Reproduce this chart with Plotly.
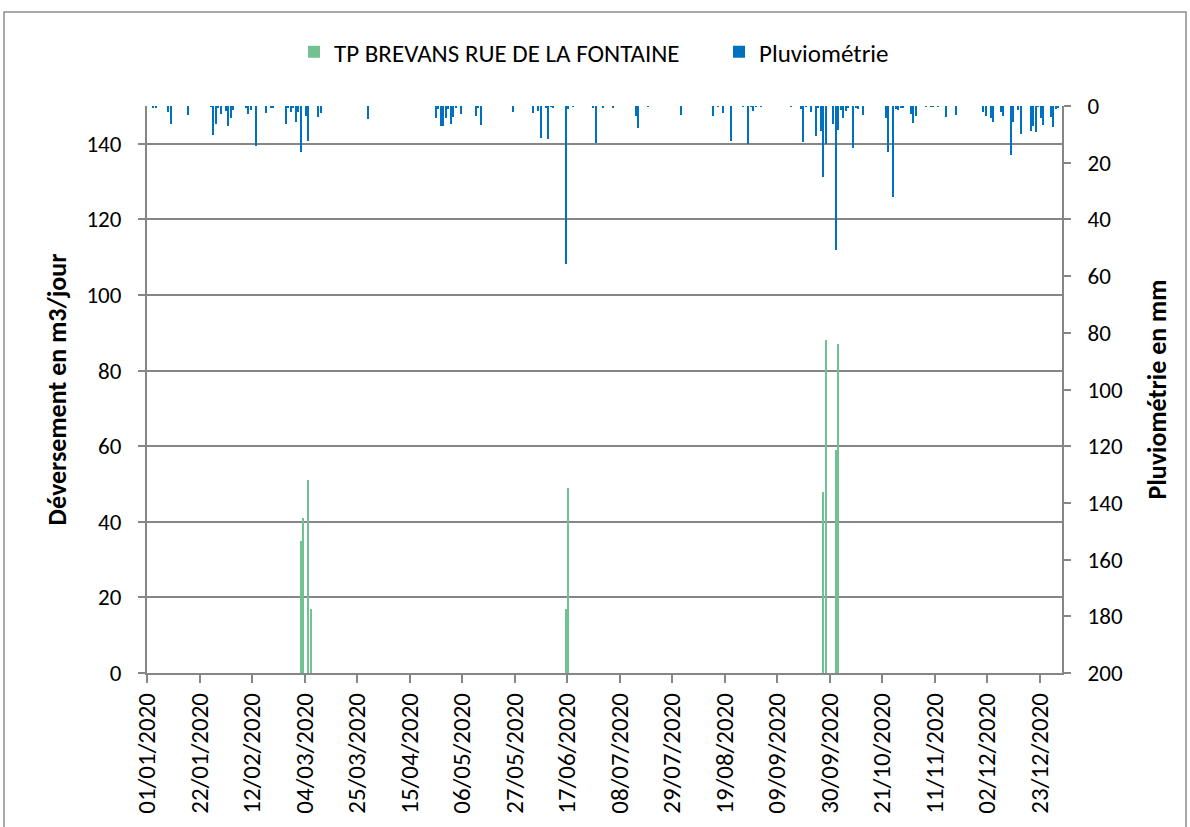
import pandas as pd
import plotly.graph_objects as go

# ---- data (day index from 01/01/2020) ----
overflow_day = [61, 62, 64, 65, 167, 168, 270, 271, 275, 276]
overflow_m3 = [35, 41, 51, 17, 17, 49, 48, 88, 59, 87]

rain_day = [2, 3, 8, 9, 16, 25, 26, 27, 28, 29, 31, 32, 33, 34, 39, 40, 41, 43, 47, 49, 50,
            55, 56, 57, 58, 59, 60, 61, 63, 64, 68, 69,
            88, 115, 116, 117, 118, 119, 120, 121, 122, 123, 125, 131, 132, 133, 146,
            154, 156, 157, 159, 160, 161, 162, 167, 168, 170, 178, 179, 182, 186, 195, 196,
            200, 213, 226, 228,
            230, 233, 238, 240, 241, 242, 243, 245, 257, 261, 262, 263, 265, 267, 268, 269,
            270, 271, 274, 275, 276, 277, 278, 279, 280, 282, 283, 284, 286, 295, 296, 298,
            299, 300, 301, 302,
            305, 306, 307, 311, 313, 314, 316, 319, 323, 334, 335, 337, 338, 341, 342, 345,
            346, 348, 349, 353, 354, 355, 356, 357, 358, 361, 362, 363, 364]
rain_mm = [0.8, 0.4, 2.2, 6.2, 3.2, 0.2, 10.2, 6.5, 0.8, 2.9, 1.6, 6.9, 4.1, 1.4, 0.8, 2.9, 1.4, 14.1, 2.6, 0.6, 0.6,
           6.5, 0.8, 2.0, 0.8, 5.8, 2.0, 16.3, 3.4, 12.2, 3.8, 2.6,
           4.6, 4.4, 1.1, 6.9, 7.2, 4.4, 1.1, 6.2, 3.8, 0.5, 2.7, 3.4, 0.8, 6.6, 2.0,
           2.6, 1.6, 11.4, 0.5, 11.8, 0.2, 0.6, 55.9, 1.2, 0.2, 0.8, 12.9, 0.8, 0.5, 3.4, 7.9,
           0.2, 3.2, 3.4, 0.2,
           2.4, 12.3, 0.2, 13.5, 0.2, 1.8, 0.2, 0.2, 0.2, 1.1, 12.6, 0.2, 2.0, 10.5, 0.8, 8.7,
           25.0, 13.3, 6.3, 50.8, 8.6, 1.4, 4.1, 1.8, 0.5, 14.9, 0.5, 1.1, 3.2, 4.1, 16.1, 32.0,
           1.1, 1.4, 0.5, 0.4,
           2.8, 6.1, 3.5, 0.2, 0.2, 0.2, 0.2, 3.8, 3.2, 2.0, 3.4, 4.4, 5.5, 2.0, 3.4, 17.3,
           5.8, 1.4, 10.0, 8.7, 6.9, 9.1, 0.2, 4.4, 6.7, 3.8, 7.4, 1.1, 0.8]

series_names = ["TP BREVANS RUE DE LA FONTAINE", "Pluviométrie"]
y_title = "Déversement en m3/jour"
y2_title = "Pluviométrie en mm"

base = pd.Timestamp("2020-01-01")
overflow_dates = base + pd.to_timedelta(overflow_day, unit="D")
rain_dates = base + pd.to_timedelta(rain_day, unit="D")

DAY = 86400000
FONT = "Carlito, Lato, sans-serif"
GRAY = "#868686"

W, H = 1190, 827
ML, MR, MT, MB = 147, 128, 106, 154
PW, PH = W - ML - MR, H - MT - MB

fig = go.Figure()
fig.add_trace(go.Bar(
    x=overflow_dates, y=overflow_m3, name=series_names[0],
    marker=dict(color="#72C193", line=dict(width=0)),
    width=0.6 * DAY, xperiod=DAY, xperiod0="2020-01-01", xperiodalignment="middle",
    yaxis="y",
))
fig.add_trace(go.Bar(
    x=rain_dates, y=rain_mm, name=series_names[1],
    marker=dict(color="#0070C0", line=dict(width=0)),
    width=0.6 * DAY, xperiod=DAY, xperiod0="2020-01-01", xperiodalignment="middle",
    yaxis="y2",
))

fig.update_layout(
    width=W, height=H,
    margin=dict(l=ML, r=MR, t=MT, b=MB),
    paper_bgcolor="white", plot_bgcolor="white",
    font=dict(family=FONT, size=23, color="black"),
    barmode="overlay",
    bargap=0,
    showlegend=True,
    legend=dict(orientation="h", x=(294 - ML) / PW, xanchor="left",
                y=(673 - 52) / PH, yanchor="middle",
                bgcolor="rgba(0,0,0,0)",
                font=dict(size=25), itemwidth=30, traceorder="normal",
                entrywidth=380, entrywidthmode="pixels"),
    xaxis=dict(
        type="date",
        range=["2020-01-01", "2021-01-01"],
        tick0="2020-01-01", dtick=21 * DAY,
        tickformat="%d/%m/%Y", tickangle=-90,
        showline=True, linecolor=GRAY, linewidth=2,
        ticks="outside", ticklen=8, tickcolor=GRAY, tickwidth=2,
        showgrid=False, zeroline=False,
        tickfont=dict(size=25),
    ),
    yaxis=dict(
        range=[0, 150], dtick=20, tick0=0,
        showline=True, linecolor=GRAY, linewidth=2,
        ticks="outside", ticklen=7, tickcolor=GRAY, tickwidth=2,
        ticklabelstandoff=12,
        showgrid=True, gridcolor=GRAY, gridwidth=2,
        zeroline=False,
        title=dict(text="<b>" + y_title + "</b>", font=dict(size=26), standoff=12),
        tickfont=dict(size=23),
    ),
    yaxis2=dict(
        overlaying="y", side="right",
        range=[200, 0], dtick=20, tick0=0,
        showline=True, linecolor=GRAY, linewidth=2,
        ticks="outside", ticklen=7, tickcolor=GRAY, tickwidth=2,
        ticklabelstandoff=12,
        showgrid=False, zeroline=False,
        title=dict(text="<b>" + y2_title + "</b>", font=dict(size=26), standoff=26),
        tickfont=dict(size=23),
    ),
    shapes=[dict(type="rect", xref="paper", yref="paper",
                 x0=(4 - ML) / PW, x1=(1186 - ML) / PW,
                 y0=(673 - 840) / PH, y1=(673 - 12) / PH,
                 line=dict(color="#8C8C8C", width=1.5), fillcolor="rgba(0,0,0,0)", layer="below")],
)

fig.write_html("out.html", config={"displayModeBar": False},
               post_script="document.body.style.margin='0';")
